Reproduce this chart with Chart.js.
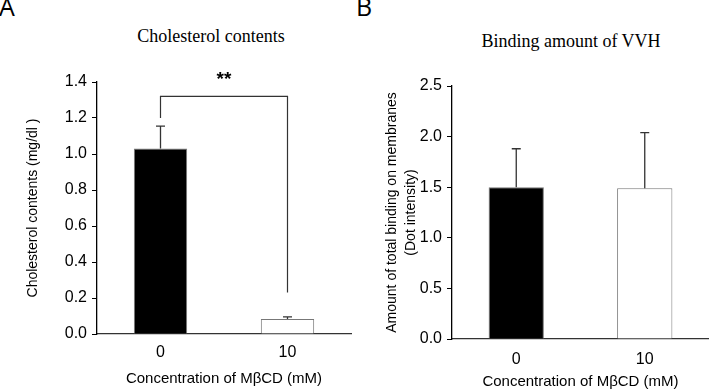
<!DOCTYPE html>
<html>
<head>
<meta charset="utf-8">
<script src="https://cdn.jsdelivr.net/npm/chart.js@4.4.0/dist/chart.umd.min.js"></script>
<style>
  body { margin: 0; background: #fff; }
  #wrap { position: relative; width: 709px; height: 391px; overflow: hidden; }
  canvas { position: absolute; top: 0; }
  .letter { position: absolute; font-family: "Open Sans", sans-serif; font-size: 25px; line-height: 25px; color: #000; }
  .title { position: absolute; font-family: "Liberation Serif", serif; font-size: 18px; color: #000; white-space: nowrap; transform: translateX(-50%); }
</style>
</head>
<body>
<div id="wrap">
  <div class="letter" style="left:-1px; top:-6px;">A</div>
  <div class="letter" style="left:356px; top:-6px;">B</div>
  <div class="title" style="left:211px; top:26px;">Cholesterol contents</div>
  <div class="title" style="left:571px; top:31px;">Binding amount of VVH</div>
  <div style="position:absolute; left:0; top:0; width:355px; height:391px;"><canvas id="chartA"></canvas></div>
  <div style="position:absolute; left:355px; top:0; width:354px; height:391px;"><canvas id="chartB"></canvas></div>
</div>
<script>
// data
const categories = ["0", "10"];
const cholMean = [1.03, 0.083];
const cholErr = [0.125, 0.012];
const vvhMean = [1.50, 1.49];
const vvhErr = [0.38, 0.55];
const barFill = ["#000000", "#ffffff"];
// significance bracket (values on y scale): level, left leg end, right leg end
const sigLevel = [1.32, 1.2, 0.23];
const sigLabel = "**";

const sans = "'Liberation Sans', Arial, sans-serif";

// draws one-sided (upper) error bars
function errorBarPlugin(errs) {
  return {
    id: "errbars",
    afterDatasetsDraw(chart) {
      const ctx = chart.ctx;
      const meta = chart.getDatasetMeta(0);
      const ys = chart.scales.y;
      const vals = chart.data.datasets[0].data;
      ctx.save();
      ctx.strokeStyle = "#333";
      ctx.lineWidth = 1.3;
      meta.data.forEach((bar, i) => {
        const top = ys.getPixelForValue(vals[i] + errs[i]);
        ctx.beginPath();
        ctx.moveTo(bar.x, bar.y);
        ctx.lineTo(bar.x, top);
        ctx.moveTo(bar.x - 4.5, top);
        ctx.lineTo(bar.x + 4.5, top);
        ctx.stroke();
      });
      ctx.restore();
    }
  };
}

const sigPlugin = {
  id: "sig",
  afterDraw(chart) {
    const ctx = chart.ctx;
    const meta = chart.getDatasetMeta(0);
    const ys = chart.scales.y;
    const x0 = meta.data[0].x, x1 = meta.data[1].x;
    const yl = ys.getPixelForValue(sigLevel[0]);
    ctx.save();
    ctx.strokeStyle = "#333";
    ctx.lineWidth = 1.2;
    ctx.beginPath();
    ctx.moveTo(x0, ys.getPixelForValue(sigLevel[1]));
    ctx.lineTo(x0, yl);
    ctx.lineTo(x1, yl);
    ctx.lineTo(x1, ys.getPixelForValue(sigLevel[2]));
    ctx.stroke();
    ctx.fillStyle = "#000";
    ctx.font = "bold 19px " + sans;
    ctx.textAlign = "center";
    ctx.textBaseline = "middle";
    ctx.fillText(sigLabel, (x0 + x1) / 2, yl - 17);
    ctx.restore();
  }
};

function makeChart(id, vals, errs, yMax, yStep, yTitle, cfg, extra) {
  const plugins = [errorBarPlugin(errs)];
  if (extra) plugins.push(extra);
  return new Chart(document.getElementById(id), {
    type: "bar",
    data: {
      labels: categories,
      datasets: [{
        data: vals,
        backgroundColor: barFill,
        borderColor: "#777",
        borderWidth: 1,
        barPercentage: cfg.barPct,
        categoryPercentage: 1
      }]
    },
    options: {
      responsive: true,
      maintainAspectRatio: false,
      animation: false,
      layout: { padding: { top: cfg.top, right: cfg.right, left: 0, bottom: 0 } },
      plugins: { legend: { display: false }, tooltip: { enabled: false } },
      scales: {
        x: {
          grid: { display: false, drawTicks: false },
          border: { display: true, color: "#333", width: 1.3 },
          ticks: { color: "#000", font: { family: sans, size: 16 }, padding: cfg.xTickPad },
          title: { display: true, text: "Concentration of M\u03b2CD (mM)", color: "#000",
                   font: { family: sans, size: 15 }, padding: { top: 0, bottom: cfg.xTitlePad } },
          afterFit(s) { s.height = cfg.xHeight; }
        },
        y: {
          min: 0, max: yMax,
          grid: { drawOnChartArea: false, drawTicks: true, tickLength: 5, color: "#000", tickColor: "#000" },
          border: { display: true, color: "#000", width: 1.3 },
          ticks: { stepSize: yStep, color: "#000", font: { family: sans, size: 16 }, padding: 5,
                   callback: v => v.toFixed(1) },
          title: { display: true, text: yTitle, color: "#000",
                   font: { family: sans, size: 14, lineHeight: 1.4 }, padding: { top: cfg.yTitlePad, bottom: 0 } },
          afterFit(s) { s.width = 97; }
        }
      }
    },
    plugins: plugins
  });
}

makeChart("chartA", cholMean, cholErr, 1.4, 0.2, "Cholesterol contents (mg/dl )",
  { barPct: 0.42, top: 82, right: 4, xHeight: 57, xTickPad: 9, xTitlePad: 3, yTitlePad: 23 }, sigPlugin);

makeChart("chartB", vvhMean, vvhErr, 2.5, 0.5,
  ["Amount of total binding on membranes", "(Dot intensity)"],
  { barPct: 0.43, top: 86, right: 0, xHeight: 52, xTickPad: 11, xTitlePad: 0, yTitlePad: 27 }, null);
</script>
</body>
</html>
